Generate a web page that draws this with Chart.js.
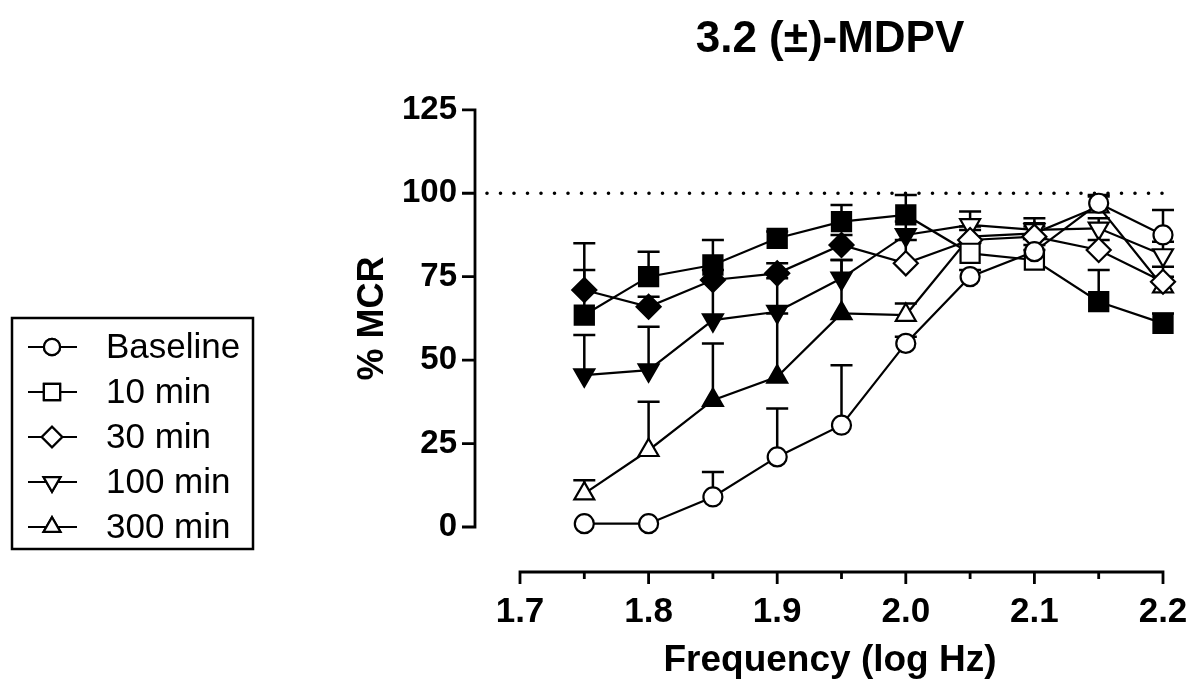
<!DOCTYPE html>
<html>
<head>
<meta charset="utf-8">
<script src="https://cdn.jsdelivr.net/npm/chart.js@4.4.0/dist/chart.umd.min.js"></script>
<style>
html, body { margin: 0; padding: 0; background: #fff; overflow: hidden; }
#wrap { width: 1193px; height: 683px; }
canvas { display: block; }
</style>
</head>
<body>
<div id="wrap"><canvas id="chart"></canvas></div>
<script>
// log Hz
const freq = [1.75, 1.8, 1.85, 1.9, 1.95, 2.0, 2.05, 2.1, 2.15, 2.2];

const seriesNames = ['Baseline', '10 min', '30 min', '100 min', '300 min'];

// % MCR means and upper SEM
const baseline    = [1, 1, 9, 21, 30.5, 55, 75, 82.5, 97, 87.5];
const baselineErr = [0, 0, 7.5, 14.5, 18, 2, 2, 2, 2.5, 7.5];
const min10       = [63.5, 75, 78.5, 86.5, 91.5, 93.5, 82, 80, 67.5, 61];
const min10Err    = [13.5, 7.5, 7.5, 2, 5, 6, 3, 3, 9.5, 3];
const min30       = [71, 66, 74, 76, 84.5, 79, 86, 87, 83, 73.5];
const min30Err    = [14, 3, 3, 3, 3, 7, 3, 3, 3, 4.5];
const min100      = [45.5, 47, 62, 64.5, 74.5, 87.5, 90.5, 89, 89.5, 81.5];
const min100Err   = [12, 13, 12, 10, 5.5, 4, 4, 3.5, 3, 4];
const min300      = [10, 23, 38, 45, 64, 63.5, 87, 88, 96, 72];
const min300Err   = [4, 14.5, 17, 19, 16, 3.5, 3, 3, 3, 3];

// filled symbol = different from baseline
const min10Sig  = [1, 1, 1, 1, 1, 1, 0, 0, 1, 1];
const min30Sig  = [1, 1, 1, 1, 1, 0, 0, 0, 0, 0];
const min100Sig = [1, 1, 1, 1, 1, 1, 0, 0, 0, 0];
const min300Sig = [0, 0, 1, 1, 1, 0, 0, 0, 0, 0];
const noSig     = [0, 0, 0, 0, 0, 0, 0, 0, 0, 0];

const yTicks = [0, 25, 50, 75, 100, 125];
const xTicks = [1.7, 1.8, 1.9, 2.0, 2.1, 2.2];
const xMinorTicks = [1.75, 1.85, 1.95, 2.05, 2.15];

const markers = [
    {style: 'circle', radius: 9.5, rotation: 0},
    {style: 'rect', radius: 13.5, rotation: 0},
    {style: 'rectRot', radius: 12, rotation: 0},
    {style: 'triangle', radius: 11.5, rotation: 180},
    {style: 'triangle', radius: 11.5, rotation: 0}
];

const allValues = [baseline, min10, min30, min100, min300];
const allErrs = [baselineErr, min10Err, min30Err, min100Err, min300Err];
const allSig = [noSig, min10Sig, min30Sig, min100Sig, min300Sig];

const datasets = seriesNames.map((name, i) => ({
    label: name,
    data: freq.map((f, j) => ({x: f, y: allValues[i][j]})),
    err: allErrs[i],
    borderColor: '#000',
    borderWidth: 2.2,
    pointStyle: markers[i].style,
    pointRadius: markers[i].radius,
    pointHoverRadius: markers[i].radius,
    pointRotation: markers[i].rotation,
    pointBorderColor: '#000',
    pointBorderWidth: 2.2,
    pointBackgroundColor: allSig[i].map(s => s ? '#000' : '#fff'),
    tension: 0,
    clip: false
}));

const AXIS_GAP = 45;

const prismPlugin = {
    id: 'prism',
    beforeDatasetsDraw(chart) {
        const {ctx, scales: {x, y}} = chart;
        ctx.save();
        ctx.strokeStyle = '#000';
        ctx.lineWidth = 2.5;
        chart.data.datasets.forEach(ds => {
            ds.data.forEach((p, j) => {
                const e = ds.err[j];
                if (!e) return;
                const px = x.getPixelForValue(p.x);
                const y0 = y.getPixelForValue(p.y);
                const y1 = y.getPixelForValue(p.y + e);
                ctx.beginPath();
                ctx.moveTo(px, y0);
                ctx.lineTo(px, y1);
                ctx.moveTo(px - 11, y1);
                ctx.lineTo(px + 11, y1);
                ctx.stroke();
            });
        });
        ctx.restore();
    },
    afterDraw(chart) {
        const {ctx, scales: {x, y}} = chart;
        const x0 = x.getPixelForValue(xTicks[0]);
        const x1 = x.getPixelForValue(xTicks[xTicks.length - 1]);
        const yTop = y.getPixelForValue(yTicks[yTicks.length - 1]);
        const yBot = y.getPixelForValue(yTicks[0]);
        const axX = x0 - AXIS_GAP;
        const axY = yBot + AXIS_GAP;

        ctx.save();
        ctx.strokeStyle = '#000';
        ctx.lineWidth = 2.8;
        ctx.lineCap = 'butt';
        // y axis
        ctx.beginPath();
        ctx.moveTo(axX, yTop - 1.4);
        ctx.lineTo(axX, yBot + 1.4);
        yTicks.forEach(v => {
            const py = y.getPixelForValue(v);
            ctx.moveTo(axX, py);
            ctx.lineTo(axX - 13, py);
        });
        ctx.stroke();
        // x axis
        ctx.beginPath();
        ctx.moveTo(x0 - 1.4, axY);
        ctx.lineTo(x1 + 1.4, axY);
        xTicks.forEach(v => {
            const px = x.getPixelForValue(v);
            ctx.moveTo(px, axY);
            ctx.lineTo(px, axY + 12);
        });
        xMinorTicks.forEach(v => {
            const px = x.getPixelForValue(v);
            ctx.moveTo(px, axY);
            ctx.lineTo(px, axY + 7);
        });
        ctx.stroke();

        // dotted 100% line
        ctx.beginPath();
        ctx.setLineDash([0, 13.5]);
        ctx.lineCap = 'round';
        ctx.lineWidth = 3.6;
        const p100 = y.getPixelForValue(100);
        ctx.moveTo(axX + 12, p100);
        ctx.lineTo(x1 + 2, p100);
        ctx.stroke();
        ctx.setLineDash([]);

        // legend
        const lg = {left: 12, top: 318, width: 241, height: 231, row: 45};
        ctx.lineWidth = 2.5;
        ctx.lineCap = 'butt';
        ctx.strokeRect(lg.left, lg.top, lg.width, lg.height);
        ctx.font = '35px "Liberation Sans", Arial, sans-serif';
        ctx.fillStyle = '#000';
        ctx.textBaseline = 'middle';
        chart.data.datasets.forEach((ds, i) => {
            const cy = lg.top + 29 + i * lg.row;
            ctx.beginPath();
            ctx.lineWidth = 2.2;
            ctx.moveTo(28, cy);
            ctx.lineTo(77, cy);
            ctx.stroke();
            ctx.fillStyle = '#fff';
            Chart.helpers.drawPoint(ctx, {
                pointStyle: markers[i].style,
                radius: markers[i].radius * 0.85,
                rotation: markers[i].rotation,
                borderWidth: 2.2
            }, 52, cy);
            ctx.fill();
            ctx.stroke();
            ctx.fillStyle = '#000';
            ctx.fillText(ds.label, 106, cy + 1);
        });
        ctx.restore();
    }
};

new Chart(document.getElementById('chart'), {
    type: 'line',
    data: {datasets: datasets},
    plugins: [prismPlugin],
    options: {
        responsive: true,
        maintainAspectRatio: false,
        animation: false,
        events: [],
        layout: {padding: {left: 343, right: 30, top: 0, bottom: 0}},
        plugins: {
            legend: {display: false},
            tooltip: {enabled: false},
            title: {
                display: true,
                text: '3.2 (±)-MDPV',
                fullSize: false,
                color: '#000',
                font: {family: '"Liberation Sans", Arial, sans-serif', size: 44, weight: 'bold', lineHeight: 1.2},
                padding: {top: 13, bottom: 44}
            }
        },
        scales: {
            x: {
                type: 'linear',
                min: 1.7 - 23 / 1286,
                max: 2.2,
                afterBuildTicks: s => { s.ticks = xTicks.map(v => ({value: v})); },
                afterFit: s => { s.height = 156; s.paddingLeft = 0; s.paddingRight = 0; },
                grid: {display: false, drawTicks: false},
                border: {display: false},
                ticks: {
                    color: '#000',
                    padding: 64,
                    maxRotation: 0,
                    font: {family: '"Liberation Sans", Arial, sans-serif', size: 35, weight: 'bold'},
                    callback: v => Number(v).toFixed(1)
                },
                title: {
                    display: true,
                    text: 'Frequency (log Hz)',
                    color: '#000',
                    padding: {top: 0, bottom: 0},
                    font: {family: '"Liberation Sans", Arial, sans-serif', size: 37, weight: 'bold', lineHeight: 1.2}
                }
            },
            y: {
                type: 'linear',
                min: 0,
                max: 125,
                afterBuildTicks: s => { s.ticks = yTicks.map(v => ({value: v})); },
                afterFit: s => { s.width = 154; },
                grid: {display: false, drawTicks: false},
                border: {display: false},
                ticks: {
                    color: '#000',
                    padding: 40,
                    font: {family: '"Liberation Sans", Arial, sans-serif', size: 33, weight: 'bold'}
                },
                title: {
                    display: true,
                    text: '% MCR',
                    color: '#000',
                    padding: {top: 8, bottom: 0},
                    font: {family: '"Liberation Sans", Arial, sans-serif', size: 36, weight: 'bold', lineHeight: 1.2}
                }
            }
        }
    }
});
</script>
</body>
</html>
